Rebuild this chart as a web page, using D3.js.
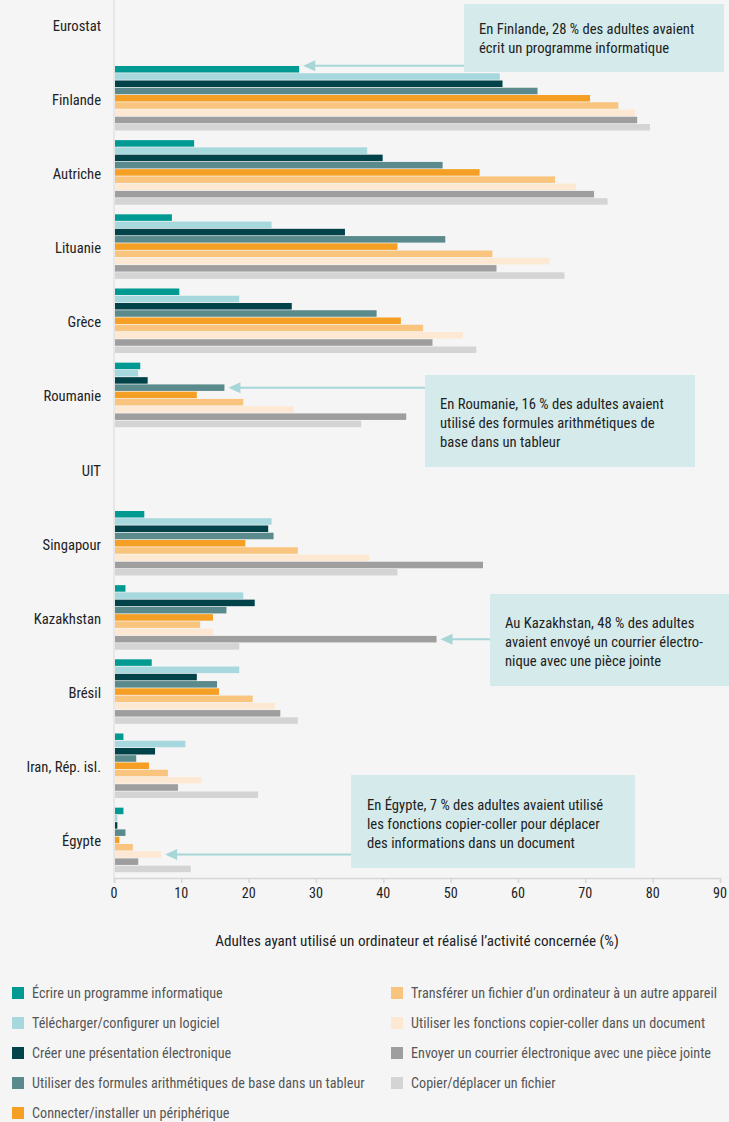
<!DOCTYPE html>
<html><head><meta charset="utf-8">
<script src="https://cdn.jsdelivr.net/npm/d3@7"></script>
<style>
html,body{margin:0;padding:0;background:#f5f5f5;}
svg{display:block;}
text{font-family:"Roboto Condensed","Roboto",sans-serif;}
</style></head>
<body><svg id="c" width="729" height="1122"></svg>
<script>
const categories = ["Eurostat","Finlande","Autriche","Lituanie","Grèce","Roumanie","UIT","Singapour","Kazakhstan","Brésil","Iran, Rép. isl.","Égypte"];
const seriesNames = [
  "Écrire un programme informatique",
  "Télécharger/configurer un logiciel",
  "Créer une présentation électronique",
  "Utiliser des formules arithmétiques de base dans un tableur",
  "Connecter/installer un périphérique",
  "Transférer un fichier d’un ordinateur à un autre appareil",
  "Utiliser les fonctions copier-coller dans un document",
  "Envoyer un courrier électronique avec une pièce jointe",
  "Copier/déplacer un fichier"
];
const seriesColors = ["#009a93","#a6d8de","#02434a","#5b8a8c","#f5a024","#f9c47e","#fde9d3","#9e9e9e","#d5d4d5"];
const ecrire       = [null,27.5,11.9,8.6,9.7,3.9,null,4.5,1.7,5.6,1.4,1.4];
const telecharger  = [null,57.3,37.6,23.4,18.6,3.6,null,23.4,19.2,18.6,10.6,0.5];
const creer        = [null,57.7,39.9,34.3,26.4,5.0,null,22.9,20.9,12.3,6.1,0.5];
const formules     = [null,62.9,48.8,49.2,39.0,16.4,null,23.7,16.7,15.3,3.3,1.7];
const connecter    = [null,70.7,54.3,42.1,42.6,12.3,null,19.5,14.7,15.6,5.2,0.8];
const transferer   = [null,74.9,65.5,56.2,45.9,19.2,null,27.3,12.8,20.6,8.0,2.8];
const copierColler = [null,77.4,68.6,64.7,51.8,26.7,null,37.9,14.7,23.9,13.0,7.0];
const envoyer      = [null,77.7,71.3,56.8,47.3,43.4,null,54.8,47.9,24.7,9.5,3.6];
const copierFich   = [null,79.6,73.3,66.9,53.8,36.7,null,42.1,18.6,27.3,21.4,11.4];
const seriesValues = [ecrire,telecharger,creer,formules,connecter,transferer,copierColler,envoyer,copierFich];
const xTicks = [0,10,20,30,40,50,60,70,80,90];
const axisTitle = "Adultes ayant utilisé un ordinateur et réalisé l’activité concernée (%)";
const annotations = [
  {cat:"Finlande", series:0, lines:["En Finlande, 28 % des adultes avaient","écrit un programme informatique"]},
  {cat:"Roumanie", series:3, lines:["En Roumanie, 16 % des adultes avaient","utilisé des formules arithmétiques de","base dans un tableur"]},
  {cat:"Kazakhstan", series:7, lines:["Au Kazakhstan, 48 % des adultes","avaient envoyé un courrier électro-","nique avec une pièce jointe"]},
  {cat:"Égypte", series:6, lines:["En Égypte, 7 % des adultes avaient utilisé","les fonctions copier-coller pour déplacer","des informations dans un document"]}
];
const boxLayout = [
  {x0:464,y0:4,x1:724,y1:72,tx:479,ty:29,dy:-3.5},
  {x0:425,y0:375,x1:695,y1:467,tx:440,ty:404,dy:0},
  {x0:490,y0:594,x1:729,y1:686,tx:505,ty:623,dy:0},
  {x0:351,y0:775,x1:635,y1:868,tx:367,ty:805,dy:0}
];

const svg = d3.select("#c");

const probe = svg.append("text").attr("font-size",14.5).text(seriesNames[5]);
const probeW = probe.node().getComputedTextLength();
probe.remove();
const K = 306/probeW;

function label(parent, tx, ty, str, size, fill, anchor){
  return parent.append("text")
    .attr("transform",`translate(${tx},${ty}) scale(${K},1)`)
    .attr("text-anchor",anchor||"start").attr("dominant-baseline","central")
    .attr("font-size",size).attr("fill",fill).text(str);
}

const x = d3.scaleLinear().domain([0,90]).range([114,720]);
const y = d3.scaleBand().domain(categories).range([-13,877]).paddingInner(0.13).paddingOuter(0.065);
const yi = d3.scaleBand().domain(d3.range(seriesNames.length)).range([0,y.bandwidth()]).paddingInner(0.1);

svg.append("line").attr("x1",x(0)).attr("x2",x(0)).attr("y1",0).attr("y2",878)
  .attr("stroke","#e2e2e2").attr("stroke-width",1.5);

const g = svg.append("g");
categories.forEach((c,ci)=>{
  seriesValues.forEach((vals,si)=>{
    const v = vals[ci];
    if (v==null) return;
    g.append("rect").attr("x",x(0)+1).attr("y",y(c)+yi(si))
      .attr("width",x(v)-x(0)-1).attr("height",yi.bandwidth())
      .attr("fill",seriesColors[si]);
  });
});

categories.forEach(c=>label(svg,101,y(c)+y.bandwidth()/2+1.5,c,15,"#222","end"));

const ax = svg.append("g").attr("transform","translate(0,878)")
  .call(d3.axisBottom(x).tickValues(xTicks).tickSize(5).tickFormat(()=>""));
ax.select(".domain").attr("stroke","#d6d6d6").attr("stroke-width",1.5);
ax.selectAll(".tick line").attr("stroke","#d6d6d6").attr("stroke-width",1.5);
xTicks.forEach(t=>label(svg,x(t),892.5,d3.format("d")(t),14.5,"#222","middle"));

label(svg,(x(0)+x(90))/2,941,axisTitle,15.5,"#222","middle");

annotations.forEach((a,i)=>{
  const L = boxLayout[i];
  const ay = y(a.cat)+yi(a.series)+yi.bandwidth()/2+L.dy;
  const tip = x(seriesValues[a.series][categories.indexOf(a.cat)])+4;
  svg.append("rect").attr("x",L.x0).attr("y",L.y0).attr("width",L.x1-L.x0).attr("height",L.y1-L.y0).attr("fill","#d4eaeb");
  svg.append("line").attr("x1",L.x0).attr("x2",tip+10).attr("y1",ay).attr("y2",ay).attr("stroke","#a7d6d8").attr("stroke-width",2);
  svg.append("path").attr("d",`M${tip},${ay} L${tip+12},${ay-5.5} L${tip+12},${ay+5.5} Z`).attr("fill","#a7d6d8");
  a.lines.forEach((t,k)=>label(svg,L.tx,L.ty+k*19,t,15,"#222","start"));
});

const legLeft = [0,1,2,3,4], legRight = [5,6,7,8];
function legendItem(si,col,row){
  const lx = col===0?12:391, ly = 993+row*30;
  svg.append("rect").attr("x",lx).attr("y",ly-6).attr("width",12).attr("height",12).attr("fill",seriesColors[si]);
  label(svg,lx+20,ly,seriesNames[si],14.5,"#555","start");
}
legLeft.forEach((s,r)=>legendItem(s,0,r));
legRight.forEach((s,r)=>legendItem(s,1,r));
</script></body></html>
